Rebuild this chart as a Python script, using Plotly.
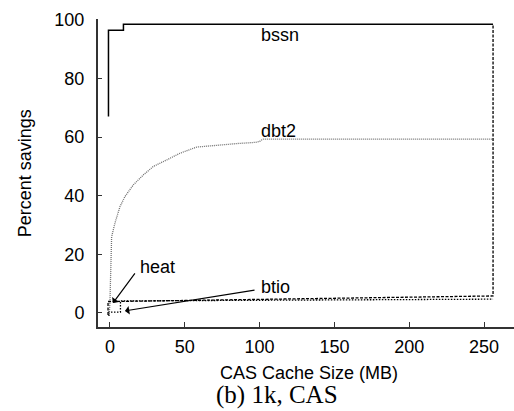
import plotly.graph_objects as go

# ---- data ----
bssn_x = [-1, -1, 9, 9, 256]
bssn_y = [67, 96.5, 96.5, 98.5, 98.5]

dbt2_x = [-0.5, 0, 0.8, 1.1, 3.3, 6.7, 10, 15.6, 22.3, 29, 37.9, 46.8, 58, 72.4, 85, 97, 100, 102, 150, 200, 256]
dbt2_y = [-1, 4.4, 20, 26, 30.6, 36.3, 39.7, 43.7, 47.1, 50, 52.2, 54.5, 56.6, 57.3, 57.8, 58.2, 58.5, 59.3, 59.3, 59.3, 59.3]

heat_x = [-1.3, -1.3, 3, 50, 100, 150, 200, 256, 256]
heat_y = [-0.7, 3.9, 3.9, 4.3, 4.7, 5.0, 5.4, 5.8, 98.5]

btio_x = [-0.8, -0.8, 7, 7, 50, 100, 150, 200, 256]
btio_y = [-1.0, 0.3, 0.3, 4.1, 4.2, 4.3, 4.5, 4.6, 4.7]

x_ticks = [0, 50, 100, 150, 200, 250]
y_ticks = [0, 20, 40, 60, 80, 100]

fig = go.Figure()
fig.add_trace(go.Scatter(x=dbt2_x, y=dbt2_y, mode="lines",
                         line=dict(color="#6f6f6f", width=1.3, dash="1px,1px")))
fig.add_trace(go.Scatter(x=btio_x, y=btio_y, mode="lines",
                         line=dict(color="black", width=1.3, dash="1.5px,1.5px")))
fig.add_trace(go.Scatter(x=heat_x, y=heat_y, mode="lines",
                         line=dict(color="black", width=1.3, dash="3px,1.5px")))
fig.add_trace(go.Scatter(x=bssn_x, y=bssn_y, mode="lines",
                         line=dict(color="black", width=1.5)))

font = "Liberation Sans, Arial, Helvetica, sans-serif"

labels = [("bssn", 99.6, 94.9), ("dbt2", 99.6, 62.1), ("heat", 18.7, 15.7), ("btio", 99.6, 8.9)]
for t, lx, ly in labels:
    fig.add_annotation(x=lx, y=ly, text=t, showarrow=False, xanchor="left", yanchor="middle",
                       font=dict(family=font, size=18, color="black"))

# arrows
fig.add_annotation(x=2, y=3.4, ax=17.4, ay=14.0, axref="x", ayref="y", text="",
                   showarrow=True, arrowhead=1, arrowsize=1.2, arrowwidth=1.2, arrowcolor="black")
fig.add_annotation(x=10, y=0.7, ax=97.6, ay=7.85, axref="x", ayref="y", text="",
                   showarrow=True, arrowhead=1, arrowsize=1.2, arrowwidth=1.2, arrowcolor="black")

# axis titles and caption
fig.add_annotation(xref="paper", yref="paper", x=0.508, y=-0.149, text="CAS Cache Size (MB)",
                   showarrow=False, xanchor="center", yanchor="middle",
                   font=dict(family=font, size=18, color="black"))
fig.add_annotation(xref="paper", yref="paper", x=0.431, y=-0.221, text="(b) 1k, CAS",
                   showarrow=False, xanchor="center", yanchor="middle",
                   font=dict(family="Liberation Serif, Times New Roman, serif", size=25, color="black"))
fig.add_annotation(xref="paper", yref="paper", x=-0.175, y=0.50, text="Percent savings",
                   showarrow=False, xanchor="center", yanchor="middle", textangle=-90,
                   font=dict(family=font, size=18, color="black"))

fig.update_layout(
    width=514, height=411,
    margin=dict(l=98, r=0, t=19, b=84),
    plot_bgcolor="white", paper_bgcolor="white",
    showlegend=False,
    font=dict(family=font, size=18, color="black"),
)
fig.update_xaxes(range=[-8, 270], tickvals=x_ticks, ticks="inside", ticklen=5, tickwidth=1.2,
                 tickcolor="#333333", showline=True, linewidth=2, linecolor="#333333",
                 showgrid=False, zeroline=False, ticklabelstandoff=2)
fig.update_yaxes(range=[-4.8, 100.3], tickvals=y_ticks, ticks="inside", ticklen=4, tickwidth=1.2,
                 tickcolor="#333333", showline=True, linewidth=2, linecolor="#333333",
                 showgrid=False, zeroline=False, ticklabelstandoff=8)

fig.write_html("out.html")
